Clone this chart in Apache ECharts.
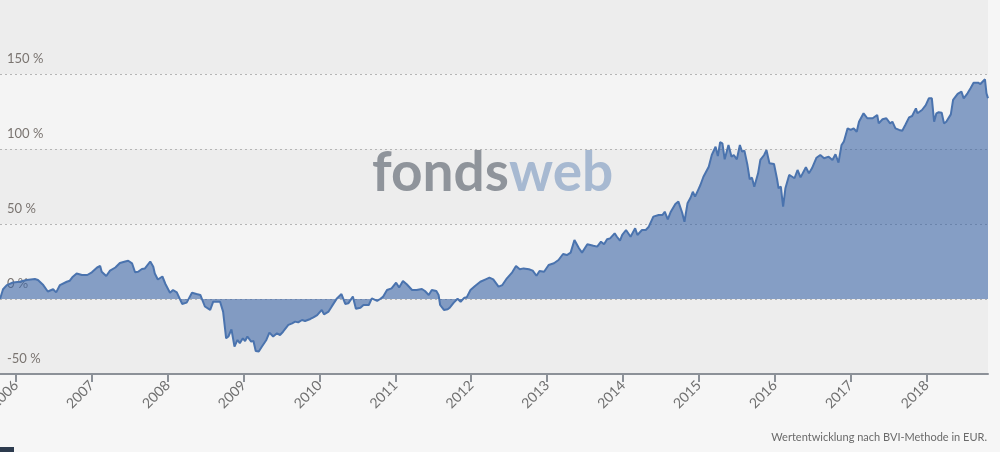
<!DOCTYPE html>
<html>
<head>
<meta charset="utf-8">
<title>Wertentwicklung</title>
<script src="https://cdn.jsdelivr.net/npm/echarts@6/dist/echarts.min.js"></script>
<style>
  html, body { margin: 0; padding: 0; background: #f6f6f6; }
  #chart { width: 1000px; height: 452px; }
</style>
</head>
<body>
<div id="chart"></div>
<script>
// Zeitpunkte (Dezimaljahre) und Wertentwicklung in %
const dates = [
  2005.79, 2005.83, 2005.88, 2005.96, 2006.05, 2006.14, 2006.25, 2006.29, 2006.36, 2006.42,
  2006.49, 2006.53, 2006.58, 2006.67, 2006.71, 2006.75, 2006.80, 2006.87, 2006.94, 2007.00,
  2007.07, 2007.11, 2007.13, 2007.19, 2007.24, 2007.31, 2007.37, 2007.44, 2007.48, 2007.53,
  2007.57, 2007.61, 2007.66, 2007.70, 2007.77, 2007.81, 2007.83, 2007.87, 2007.93, 2007.97,
  2008.03, 2008.07, 2008.12, 2008.19, 2008.25, 2008.32, 2008.38, 2008.43, 2008.49, 2008.56,
  2008.60, 2008.69, 2008.73, 2008.77, 2008.80, 2008.84, 2008.88, 2008.92, 2008.95, 2008.99,
  2009.02, 2009.05, 2009.10, 2009.13, 2009.16, 2009.20, 2009.24, 2009.30, 2009.34, 2009.39,
  2009.44, 2009.48, 2009.52, 2009.59, 2009.64, 2009.68, 2009.72, 2009.77, 2009.81, 2009.88,
  2009.92, 2009.97, 2010.03, 2010.06, 2010.12, 2010.16, 2010.23, 2010.29, 2010.34, 2010.38,
  2010.44, 2010.48, 2010.54, 2010.58, 2010.65, 2010.69, 2010.76, 2010.80, 2010.84, 2010.89,
  2010.95, 2011.01, 2011.05, 2011.10, 2011.15, 2011.22, 2011.28, 2011.35, 2011.39, 2011.44,
  2011.48, 2011.54, 2011.57, 2011.59, 2011.64, 2011.69, 2011.72, 2011.77, 2011.82, 2011.86,
  2011.91, 2011.94, 2011.99, 2012.05, 2012.12, 2012.19, 2012.24, 2012.29, 2012.36, 2012.41,
  2012.47, 2012.54, 2012.59, 2012.64, 2012.69, 2012.76, 2012.81, 2012.86, 2012.90, 2012.96,
  2013.02, 2013.09, 2013.15, 2013.21, 2013.26, 2013.31, 2013.36, 2013.42, 2013.46, 2013.53,
  2013.61, 2013.66, 2013.71, 2013.75, 2013.79, 2013.83, 2013.89, 2013.92, 2013.96, 2013.99,
  2014.04, 2014.10, 2014.16, 2014.19, 2014.25, 2014.30, 2014.34, 2014.40, 2014.47, 2014.52,
  2014.55, 2014.59, 2014.63, 2014.69, 2014.73, 2014.78, 2014.81, 2014.85, 2014.89, 2014.92,
  2014.95, 2015.00, 2015.02, 2015.06, 2015.13, 2015.17, 2015.22, 2015.25, 2015.28, 2015.31,
  2015.34, 2015.39, 2015.43, 2015.46, 2015.50, 2015.54, 2015.57, 2015.60, 2015.64, 2015.67,
  2015.70, 2015.73, 2015.78, 2015.81, 2015.86, 2015.89, 2015.93, 2015.99, 2016.03, 2016.05,
  2016.08, 2016.11, 2016.14, 2016.19, 2016.23, 2016.26, 2016.30, 2016.34, 2016.41, 2016.45,
  2016.49, 2016.55, 2016.60, 2016.65, 2016.71, 2016.76, 2016.80, 2016.84, 2016.88, 2016.91,
  2016.96, 2017.00, 2017.04, 2017.08, 2017.11, 2017.17, 2017.22, 2017.29, 2017.35, 2017.37,
  2017.42, 2017.47, 2017.52, 2017.55, 2017.59, 2017.64, 2017.68, 2017.72, 2017.77, 2017.81,
  2017.86, 2017.88, 2017.94, 2017.99, 2018.03, 2018.07, 2018.10, 2018.13, 2018.16, 2018.20,
  2018.23, 2018.26, 2018.32, 2018.35, 2018.41, 2018.46, 2018.49, 2018.54, 2018.58, 2018.62,
  2018.68, 2018.71, 2018.77, 2018.79, 2018.81
]

const values = [
  0, 6.5, 9.3, 11, 11.5, 12.7, 13.3, 12.7, 9.3, 5,
  6.5, 4.4, 9.3, 11.5, 12.2, 14.9, 17, 16, 16, 17.8,
  21, 22, 18.2, 15.3, 18.9, 21, 24, 25, 25.5, 23.8,
  17.8, 18.2, 20, 20.4, 25, 21.5, 17, 13, 15, 10,
  4.2, 6, 4.4, -3.3, -2.4, 4.2, 3.3, 2.7, -5, -7.3,
  -1.8, -1.8, -8.4, -26.2, -25, -20.2, -31.8, -27.3, -29.5, -26.2,
  -28, -25, -28.4, -28, -34.7, -35, -31.8, -27.3, -22.4, -25,
  -22.9, -24, -21.8, -17.3, -16.2, -15.1, -15.6, -14, -14.7, -13.3,
  -12.2, -10.7, -7.3, -10.2, -8.4, -5.1, 0.4, 3.3, -3.3, -2.9,
  1.6, -6.5, -5.8, -4, -4, 0.4, -1.3, 0, 1.6, 6,
  7.1, 10.9, 7.6, 12, 9.8, 6, 6, 6.7, 5.3, 2.7,
  6, 5.3, 2.7, -4, -7.3, -6.9, -5.6, -2.4, 0.2, -1.8,
  0.9, 1.1, 6, 8.7, 11.5, 13.1, 14.2, 13.1, 8.2, 9.3,
  13.8, 17.8, 22, 19.8, 20.4, 19.8, 18.9, 15.5, 18.7, 18.2,
  22.7, 23.8, 26, 30, 29.3, 30.9, 39.3, 33.8, 30.9, 36.5,
  35.5, 34.9, 38.2, 36.5, 39.8, 40.4, 43.8, 41.5, 38.9, 42.7,
  46, 41.5, 47.1, 42.7, 46, 46, 48.2, 54.9, 56, 56,
  58.2, 53.1, 58.2, 63.3, 64.9, 57.5, 51.5, 63.8, 67.5, 71.5,
  68.2, 73.8, 76, 81.5, 88.2, 96, 101.5, 95.3, 104.5, 103.8,
  93.1, 102.7, 94.9, 96, 93.1, 102.7, 98.2, 98.9, 89.3, 79.8,
  80.9, 74.9, 83.8, 92.7, 96, 99.3, 90.5, 90, 80, 73.8,
  74.9, 61.5, 73.8, 82.7, 81.5, 80.5, 86, 81.1, 87.8, 83.8,
  87.1, 94.2, 96, 93.8, 94.9, 92.7, 96.5, 90.9, 102.7, 104.9,
  113.8, 112.7, 113.8, 111.5, 118.2, 123.8, 120.5, 120.5, 122.7, 117.1,
  119.8, 120.5, 117.1, 118.2, 113.8, 112.7, 112.2, 116, 121.1, 122,
  127.1, 123.8, 126, 129.3, 133.8, 133.8, 118.2, 123.8, 124.5, 124.2,
  117.1, 118.2, 123.1, 132.7, 136.7, 138.2, 133.8, 137.1, 140.5, 144.2,
  144.2, 143.3, 146.5, 137.1, 133.8
]

// Achsenbeschriftung
const yearTicks = [2006, 2007, 2008, 2009, 2010, 2011, 2012, 2013, 2014, 2015, 2016, 2017, 2018]
const yTicks = [-50, 0, 50, 100, 150]

const seriesData = dates.map((d, i) => [d, values[i]])

const chart = echarts.init(document.getElementById('chart'))

const option = {
  backgroundColor: '#f6f6f6',
  animation: false,
  textStyle: { fontFamily: 'Lato' },
  grid: {
    left: 0,
    right: 12,
    top: -1,
    bottom: 78,
    containLabel: false,
    outerBoundsMode: 'none'
  },
  xAxis: {
    type: 'value',
    min: 2005.79,
    max: 2018.81,
    splitLine: { show: false },
    axisLine: {
      show: true,
      onZero: false,
      lineStyle: { color: '#8c9198', width: 2 }
    },
    axisTick: {
      show: true,
      length: 8,
      customValues: yearTicks,
      lineStyle: { color: '#8c9198', width: 2 }
    },
    axisLabel: {
      customValues: yearTicks,
      rotate: 45,
      margin: 9,
      color: '#707070',
      fontSize: 14,
      fontFamily: 'Lato',
      hideOverlap: false,
      formatter: (v) => String(Math.round(v))
    }
  },
  yAxis: {
    type: 'value',
    min: -50,
    max: 200,
    interval: 50,
    axisLine: { show: false },
    axisTick: { show: false },
    splitLine: {
      show: true,
      lineStyle: { color: '#b5b5b5', type: [2, 3], width: 1 }
    },
    splitArea: {
      show: true,
      areaStyle: { color: ['#ededed', '#f4f4f4'] }
    },
    axisLabel: {
      inside: true,
      margin: 7,
      verticalAlign: 'bottom',
      padding: [0, 0, 9, 0],
      color: '#7a7470',
      fontSize: 13,
      fontFamily: 'Lato',
      formatter: (v) => (yTicks.indexOf(v) >= 0 ? v + ' %' : '')
    }
  },
  graphic: [
    {
      type: 'text',
      left: 372,
      top: 146,
      z: 1,
      style: {
        text: '{a|fonds}{b|web}',
        rich: {
          a: { fontSize: 55, fontWeight: 'bold', fontFamily: 'Lato', fill: '#8f949b' },
          b: { fontSize: 55, fontWeight: 'bold', fontFamily: 'Lato', fill: '#a7b9d1' }
        }
      }
    },
    {
      type: 'text',
      right: 13,
      top: 432,
      style: {
        text: 'Wertentwicklung nach BVI-Methode in EUR.',
        fill: '#6a6a6a',
        fontSize: 11,
        fontFamily: 'Lato'
      }
    },
    {
      type: 'rect',
      left: 0,
      top: 447,
      shape: { width: 14, height: 10 },
      style: { fill: '#2d3b4e' }
    }
  ],
  series: [
    {
      name: 'Fonds',
      type: 'line',
      data: seriesData,
      showSymbol: false,
      z: 3,
      lineStyle: { color: '#4a73ae', width: 2 },
      itemStyle: { color: '#4a73ae' },
      areaStyle: { color: 'rgba(58, 100, 165, 0.6)', opacity: 1 }
    }
  ]
}

chart.setOption(option)
</script>
</body>
</html>
